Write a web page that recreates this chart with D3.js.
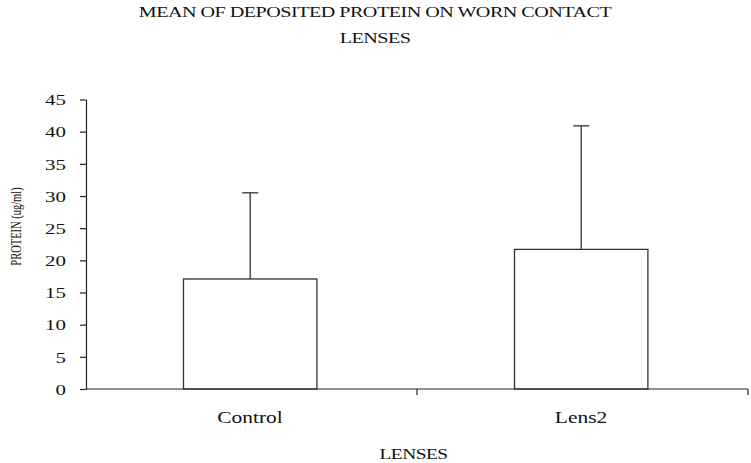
<!DOCTYPE html>
<html>
<head>
<meta charset="utf-8">
<script src="https://cdn.jsdelivr.net/npm/d3@7/dist/d3.min.js"></script>
<style>
  html, body { margin: 0; padding: 0; background: #fff; }
  svg text { font-family: "Liberation Serif", "Times New Roman", Times, "DejaVu Serif", serif !important; }
</style>
</head>
<body>
<svg id="chart" width="751" height="463"></svg>
<script>
// ---- data ----
const categories = ["Control", "Lens2"];
const means = [17.1, 21.7];
const errors = [13.4, 19.2];
const yTicks = [0, 5, 10, 15, 20, 25, 30, 35, 40, 45];
const titleLines = ["MEAN OF DEPOSITED PROTEIN ON WORN CONTACT", "LENSES"];
const xTitle = "LENSES";
const yTitle = "PROTEIN (ug/ml)";

// ---- layout ----
const plotLeft = 86, plotRight = 748, plotTop = 99.5, plotBottom = 389;
const ink = "#222";
const SX = 1.3; // horizontal stretch of the original artwork's text
const FONT = "'Liberation Serif', 'Times New Roman', Times, 'DejaVu Serif', serif";

const svg = d3.select("#chart");

const x = d3.scaleBand().domain(categories).range([plotLeft, plotRight]).padding(0);
const y = d3.scaleLinear().domain([0, 45]).range([plotBottom, plotTop]);

function stretchedText(g, tx, ty, str, size, sx, anchor) {
  return g.append("text")
    .attr("transform", `translate(${tx},${ty}) scale(${sx},1)`)
    .attr("text-anchor", anchor || "middle")
    .attr("font-family", FONT)
    .attr("font-size", size)
    .attr("fill", "#111")
    .text(str);
}

// title
stretchedText(svg, 375, 17, titleLines[0], 15.5, SX).attr("letter-spacing", -0.4);
stretchedText(svg, 375, 43, titleLines[1], 15.5, SX).attr("letter-spacing", -0.4);

// y axis
const yAxis = d3.axisLeft(y).tickValues(yTicks).tickSizeInner(6).tickSizeOuter(0).tickPadding(0);
const gy = svg.append("g").attr("transform", `translate(${plotLeft},0)`).call(yAxis);
gy.attr("font-family", FONT);
gy.select(".domain").attr("stroke", ink).attr("stroke-width", 1.2);
gy.selectAll(".tick line").attr("stroke", ink).attr("stroke-width", 1.2);
gy.selectAll(".tick text")
  .attr("font-size", 15.5)
  .attr("fill", "#111")
  .attr("font-family", FONT)
  .attr("x", -20 / 1.35)
  .attr("dy", "0.34em")
  .attr("transform", "scale(1.35,1)");

// x axis (line with ticks at category boundaries)
const gx = svg.append("g");
gx.append("line")
  .attr("x1", plotLeft).attr("x2", plotRight)
  .attr("y1", y(0)).attr("y2", y(0))
  .attr("stroke", ink).attr("stroke-width", 1.2);
const boundaries = categories.map(c => x(c)).concat([x(categories[categories.length - 1]) + x.step()]);
gx.selectAll("line.tk").data(boundaries.slice(1)).join("line")
  .attr("class", "tk")
  .attr("x1", d => d).attr("x2", d => d)
  .attr("y1", y(0)).attr("y2", y(0) + 6)
  .attr("stroke", ink).attr("stroke-width", 1.2);
categories.forEach(c => {
  stretchedText(gx, x(c) + x.bandwidth() / 2 - 1.5, 423, c, 16.5, SX);
});

// axis titles
stretchedText(svg, 413.5, 459, xTitle, 15.5, 1.25).attr("letter-spacing", -0.4);
svg.append("text")
  .attr("transform", `translate(21,226.5) scale(${SX},1) rotate(-90)`)
  .attr("text-anchor", "middle")
  .attr("font-family", FONT)
  .attr("font-size", 10.5)
  .attr("fill", "#111")
  .text(yTitle);

// bars
const barW = x.bandwidth() * 0.403;
const data = categories.map((c, i) => ({ c, m: means[i], e: errors[i] }));
const cx = d => x(d.c) + x.bandwidth() / 2 - 1.3;

svg.append("g").selectAll("rect").data(data).join("rect")
  .attr("x", d => cx(d) - barW / 2)
  .attr("width", barW)
  .attr("y", d => y(d.m))
  .attr("height", d => y(0) - y(d.m))
  .attr("fill", "#fff")
  .attr("stroke", "#333")
  .attr("stroke-width", 1.3);

// error bars (upper only)
const ge = svg.append("g");
ge.selectAll("line.v").data(data).join("line")
  .attr("class", "v")
  .attr("x1", cx).attr("x2", cx)
  .attr("y1", d => y(d.m)).attr("y2", d => y(d.m + d.e))
  .attr("stroke", "#333").attr("stroke-width", 1.3);
ge.selectAll("line.cap").data(data).join("line")
  .attr("class", "cap")
  .attr("x1", d => cx(d) - 8).attr("x2", d => cx(d) + 8)
  .attr("y1", d => y(d.m + d.e)).attr("y2", d => y(d.m + d.e))
  .attr("stroke", "#333").attr("stroke-width", 1.3);

// keep x-axis line on top of bar bottoms
gx.raise();
</script>
</body>
</html>
